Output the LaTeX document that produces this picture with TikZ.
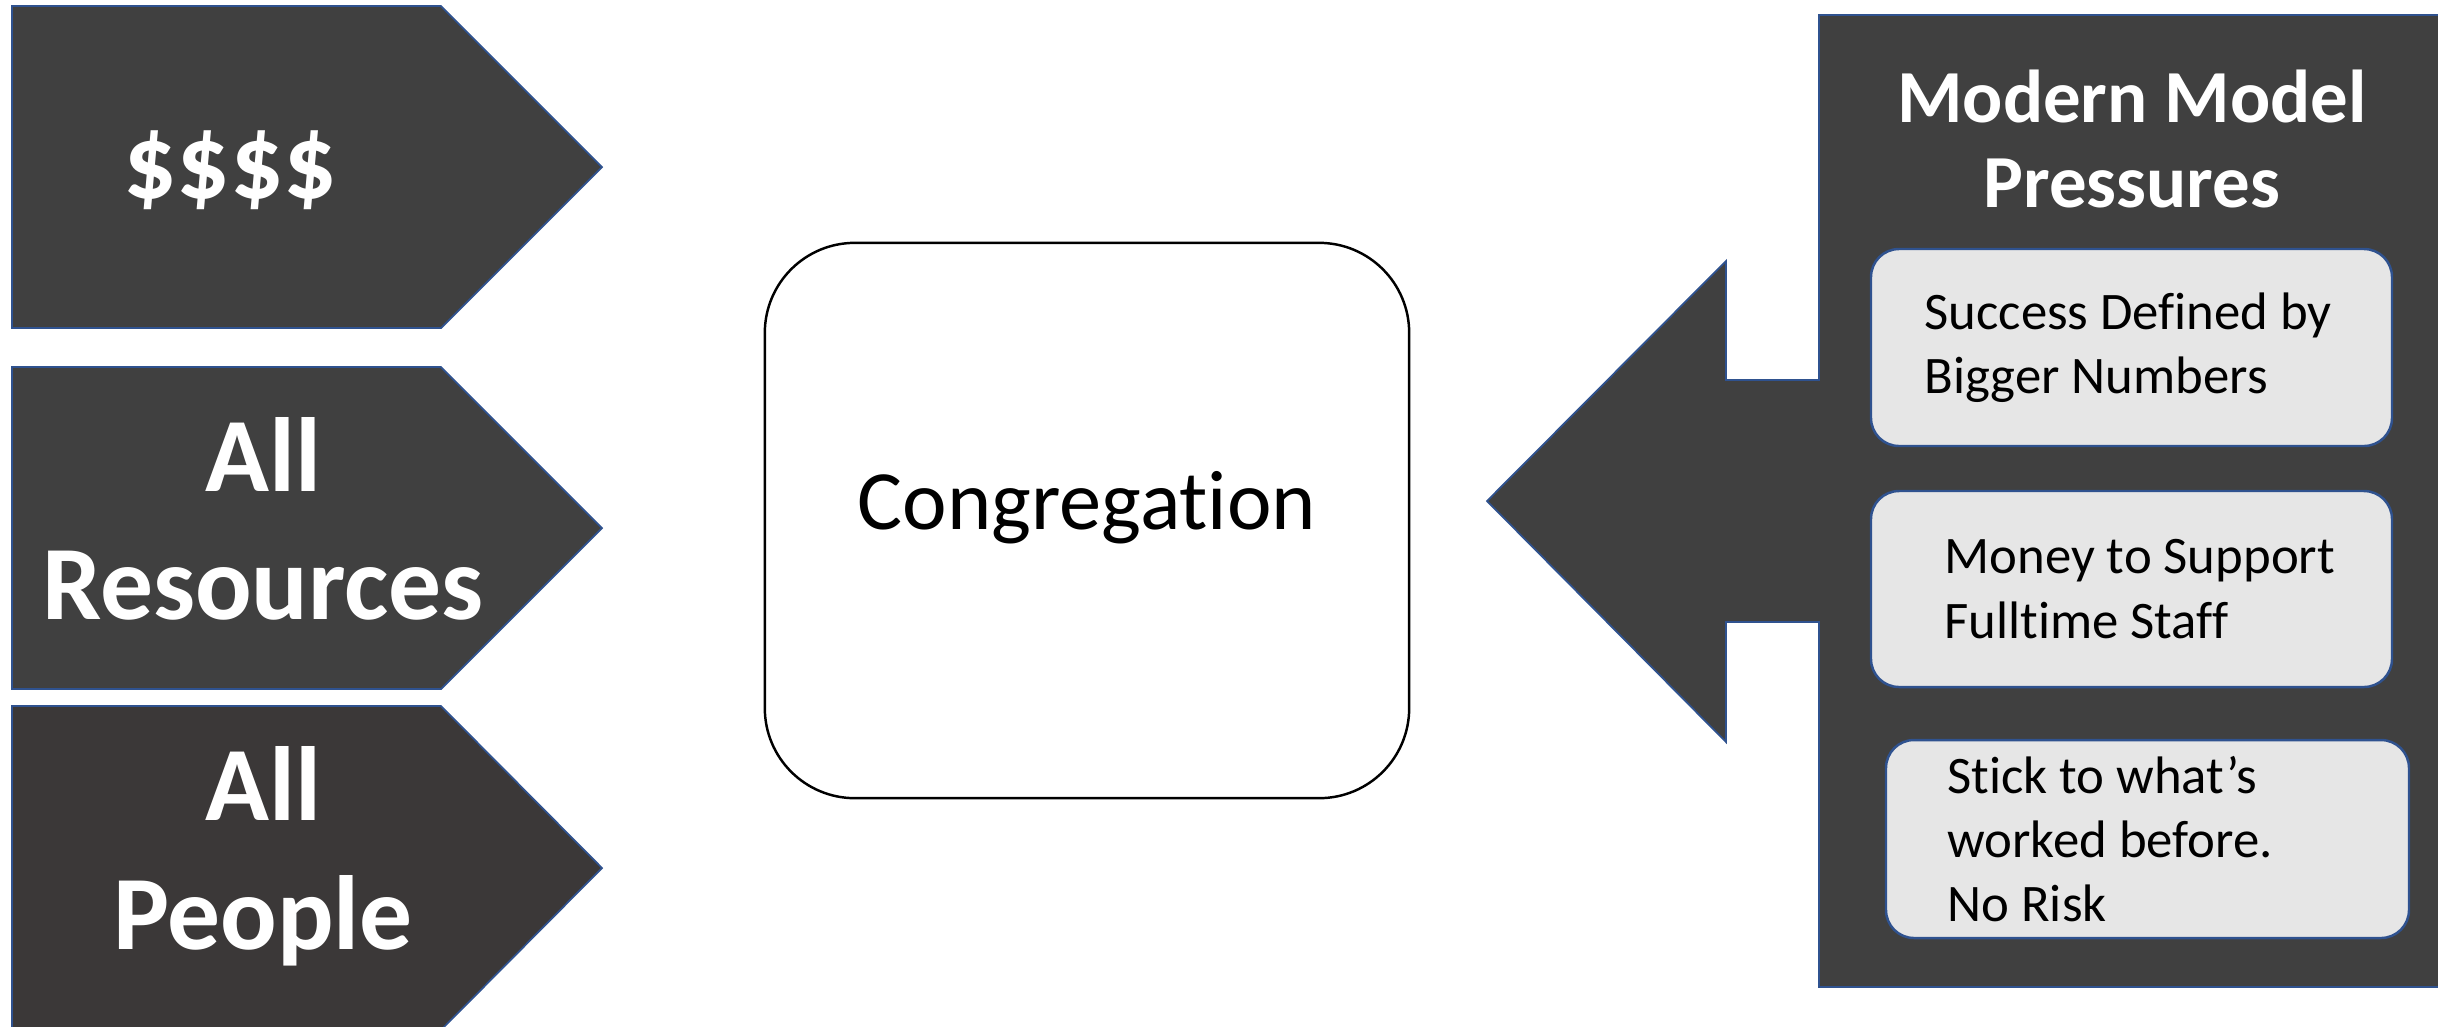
\documentclass[tikz,border=0pt]{standalone}
\usepackage{fontspec}
\setmainfont{Carlito}[Ligatures=NoCommon]
\usepackage{xcolor}
\usepackage{tikz}
\usetikzlibrary{positioning,calc,fit}

\definecolor{slate}{HTML}{404040}
\definecolor{slatedeep}{HTML}{3B3838}
\definecolor{edgeblue}{HTML}{2F528F}
\definecolor{boxgray}{HTML}{E6E6E6}

\begin{document}
\begin{tikzpicture}[
    x=0.01cm, y=-0.01cm,
    arrowsign/.style={fill=slate, draw=edgeblue, line width=0.5pt},
    signlabel/.style={align=center, text=white, inner sep=0pt, font=\fontsize{30}{36.6}\selectfont\bfseries},
    hubbox/.style={rectangle, draw=black, line width=0.7pt, fill=white, rounded corners=0.9cm, minimum width=6.44cm, minimum height=5.55cm, text height=0.54cm, text depth=0.37cm, font=\fontsize{24}{29}\selectfont},
    pressarrow/.style={fill=slate, draw=edgeblue, line width=0.5pt},
    presstitle/.style={align=center, text=white, inner sep=0pt, font=\fontsize{21.3}{24.2}\selectfont\bfseries},
    pressbox/.style={rectangle, draw=edgeblue, line width=0.7pt, fill=boxgray, rounded corners=0.28cm, inner sep=0pt},
    presstext/.style={align=left, inner sep=0pt, font=\fontsize{15}{18.3}\selectfont}
]
\useasboundingbox (0,0) rectangle (2438,1026);

% Signs on the left
\draw[arrowsign] (12,6) -- (441,6) -- (602,167) -- (441,328) -- (12,328) -- cycle;
\draw[arrowsign] (12,367) -- (441,367) -- (602,528) -- (441,689) -- (12,689) -- cycle;
\draw[arrowsign, fill=slatedeep] (12,706) -- (441,706) -- (602,868) -- (441,1030) -- (12,1030) -- cycle;

\node[signlabel] (money) at (230,170) {\$\$\$\$};
\node[signlabel] (resources) at (263,519) {All\\Resources};
\node[signlabel] (people) at (263,856) {All\\People};

% Congregation
\node[hubbox] (congregation) at (1087,520.5) {Congregation};

% Pressure panel with its arrow
\draw[pressarrow] (1819,15) -- (2460,15) -- (2460,987) -- (1819,987) -- (1819,622)
    -- (1726,622) -- (1726,742) -- (1487,501) -- (1726,261) -- (1726,380) -- (1819,380) -- cycle;

\node[presstitle] (pressures) at (2132,139) {Modern Model\\Pressures};

% Pressures
\node[pressbox, fit={(1871,249) (2392,446)}] (numbers) {};
\node[presstext, right=0.54cm of numbers.west] (numberstxt) {Success Defined by\\Bigger Numbers};

\node[pressbox, fit={(1871,491) (2392,687)}] (staff) {};
\node[presstext, right=0.74cm of staff.west] (stafftxt) {Money to Support\\Fulltime Staff};

\node[pressbox, fit={(1886,740) (2409,938)}] (norisk) {};
\node[presstext, right=0.62cm of norisk.west] (norisktxt) {Stick to what’s\\worked before.\\No Risk};

\end{tikzpicture}
\end{document}
